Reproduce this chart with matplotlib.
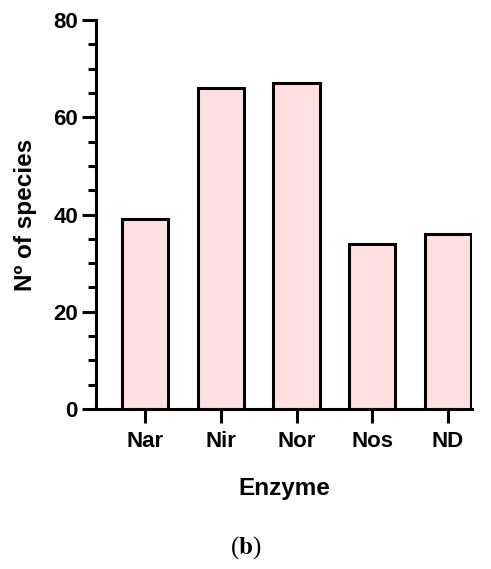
import matplotlib
matplotlib.use("Agg")
import matplotlib.pyplot as plt
from matplotlib.ticker import MultipleLocator

enzymes = ["Nar", "Nir", "Nor", "Nos", "ND"]
species = [39, 66, 67, 34, 36]

plt.rcParams["font.family"] = ["Liberation Sans", "DejaVu Sans"]

fig = plt.figure(figsize=(4.91, 5.69), dpi=100)
ax = fig.add_axes([0.1955, 0.281, 0.766, 0.684])

x = range(len(enzymes))
ax.bar(x, species, width=0.61, color="#ffdfe0", edgecolor="black", linewidth=2.2, zorder=3)

ax.set_xlim(-0.65, 4.32)
ax.set_ylim(0, 80)
ax.yaxis.set_major_locator(MultipleLocator(20))
ax.yaxis.set_minor_locator(MultipleLocator(5))
ax.set_xticks(list(x))
ax.set_xticklabels(enzymes, fontsize=16, fontweight="bold")
for lab in ax.get_yticklabels():
    lab.set_fontsize(16)
    lab.set_fontweight("bold")

for side in ("top", "right"):
    ax.spines[side].set_visible(False)
for side in ("left", "bottom"):
    ax.spines[side].set_linewidth(2.2)
ax.spines["left"].set_capstyle("projecting")

ax.tick_params(axis="y", which="major", length=10, width=2.2, pad=3)
ax.tick_params(axis="y", which="minor", length=5.5, width=2.2)
ax.tick_params(axis="x", which="major", length=10, width=2.2, pad=6)

ax.set_ylabel("Nº of species", fontsize=17.5, fontweight="bold", labelpad=12)
ax.set_xlabel("Enzyme", fontsize=17.5, fontweight="bold", labelpad=18)

fig.text(0.5, 0.037, r"($\mathbf{b}$)", ha="center", va="center", fontsize=18,
         family="Liberation Serif", math_fontfamily="stix")

fig.savefig("out.png", dpi=100)
